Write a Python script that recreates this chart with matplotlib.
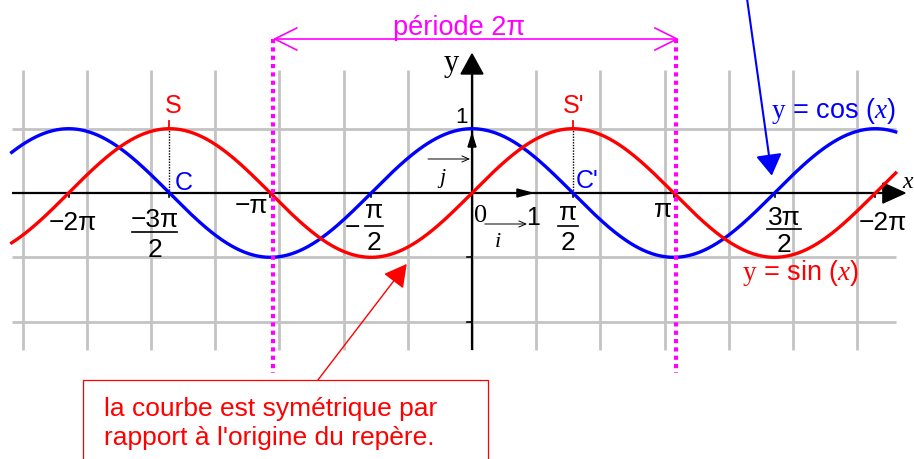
import numpy as np
import matplotlib
matplotlib.use("Agg")
import matplotlib.pyplot as plt
from matplotlib.patches import FancyArrowPatch, Rectangle, Polygon

plt.rcParams['font.family'] = ['Liberation Sans', 'DejaVu Sans']
plt.rcParams['mathtext.fontset'] = 'custom'
plt.rcParams['mathtext.rm'] = 'Liberation Serif'
plt.rcParams['mathtext.it'] = 'Liberation Serif:italic'

PI = np.pi

# ---------------- data ----------------
curve_x_range = [-7.17, 6.6]
grid_x_lines = [-7, -6, -5, -4, -3, -2, -1, 0, 1, 2, 3, 4, 5, 6]
grid_y_lines = [1, -1, -2]
grid_y_extent = [-2.44, 1.91]
tick_values = [-2 * PI, -1.5 * PI, -PI, -0.5 * PI, 0.5 * PI, PI, 1.5 * PI, 2 * PI]
tick_numerators = ["−2π", "−3π", "−π", "π", "π", "π", "3π", "−2π"]
tick_denominators = [None, "2", None, "2", "2", None, "2", None]
y_tick_values = [-1, -2]
period_bounds = [-PI, PI]
sin_max_x = [-1.5 * PI, 0.5 * PI]
sin_max_labels = ["S", "S'"]
cos_zero_labels = ["C", "C'"]

RED, BLUE, MAG, GRAY = "#ff0000", "#0000ff", "#ff00ff", "#c3c3c3"

# ---------------- figure ----------------
fig = plt.figure(figsize=(9.14, 4.6), dpi=100)
ax = fig.add_axes([0, 0, 1, 1])
SX, SY = 64.2, 64.3
ax.set_xlim(-472 / SX, 442 / SX)
ax.set_ylim(-266 / SY, 194 / SY)
ax.axis('off')

# grid
for gx in grid_x_lines:
    ax.plot([gx, gx], grid_y_extent, color=GRAY, lw=2.0, zorder=1, solid_capstyle='butt')
for gy in grid_y_lines:
    ax.plot(curve_x_range, [gy, gy], color=GRAY, lw=2.0, zorder=1, solid_capstyle='butt')

# axes
ax.plot([curve_x_range[0], 6.5], [0, 0], color='black', lw=1.6, zorder=3, solid_capstyle='butt')
ax.plot([0, 0], [grid_y_extent[0], 1.9], color='black', lw=1.6, zorder=3, solid_capstyle='butt')
ax.add_patch(Polygon([[6.745, 0], [6.40, 0.156], [6.40, -0.156]], closed=True,
                     color='black', zorder=4))
ax.add_patch(Polygon([[0, 2.162], [-0.171, 1.851], [0.171, 1.851]], closed=True,
                     color='black', zorder=4))
# unit vector heads
ax.add_patch(Polygon([[0.935, 0], [0.70, 0.062], [0.70, -0.062]], closed=True,
                     color='black', zorder=4))
ax.add_patch(Polygon([[0, 0.918], [-0.062, 0.715], [0.062, 0.715]], closed=True,
                     color='black', zorder=4))
# ticks
for tv in tick_values:
    ax.plot([tv, tv], [0, -0.06], color='black', lw=1.2, zorder=3)
for tv in y_tick_values:
    ax.plot([0, -0.08], [tv, tv], color='black', lw=1.2, zorder=3)

# curves
x = np.linspace(curve_x_range[0], curve_x_range[1], 800)
ax.plot(x, np.cos(x), color=BLUE, lw=2.4, zorder=5)
ax.plot(x, np.sin(x), color=RED, lw=2.4, zorder=6)

# tick labels
FS = 19
single_offsets = {0: (0.06, -0.56), 2: (-0.29, -0.295), 5: (-0.17, -0.358), 7: (0.12, -0.56)}
frac_params = {
    1: (-0.233, -0.513, -0.607, -0.98, 0.35),
    3: (0.045, -0.373, -0.513, -0.871, 0.14),
    4: (-0.076, -0.404, -0.513, -0.871, 0.15),
    6: (0.15, -0.482, -0.56, -0.902, 0.26),
}
for i, tv in enumerate(tick_values):
    num, den = tick_numerators[i], tick_denominators[i]
    if den is None:
        dx, by = single_offsets[i]
        ax.text(tv + dx, by, num, fontsize=FS, ha='center', va='baseline', zorder=7)
    else:
        dx, nb, ly, db, hw = frac_params[i]
        cx = tv + dx
        ax.text(cx, nb, num, fontsize=FS, ha='center', va='baseline', zorder=7)
        ax.plot([cx - hw, cx + hw], [ly, ly], color='black', lw=1.2, zorder=7)
        ax.text(cx, db, den, fontsize=FS, ha='center', va='baseline', zorder=7)
        if i == 3:
            ax.text(cx - 0.33, ly - 0.01, "−", fontsize=FS, ha='center', va='center', zorder=7)

# axis labels and unit vectors
ax.text(-0.327, 1.913, "y", fontsize=22, family='Liberation Serif', ha='center',
        va='baseline', zorder=7)
ax.text(6.71, 0.1, "x", fontsize=17, family='Liberation Serif', style='italic',
        ha='left', va='baseline', zorder=7)
ax.text(-0.17, 1.104, "1", fontsize=16, ha='center', va='baseline', zorder=7)
ax.text(0.14, -0.435, "0", fontsize=19, family='Liberation Serif', ha='center',
        va='baseline', zorder=7)
ax.text(0.95, -0.482, "1", fontsize=18, ha='center', va='baseline', zorder=7)
ax.text(-0.467, 0.171, "j", fontsize=16, family='Liberation Serif', style='italic',
        ha='center', va='baseline', zorder=7)
ax.text(0.405, -0.824, "i", fontsize=16, family='Liberation Serif', style='italic',
        ha='center', va='baseline', zorder=7)
for (x0, x1, yy) in [(-0.685, -0.03, 0.529), (0.2, 0.857, -0.482)]:
    ax.add_patch(FancyArrowPatch((x0, yy), (x1, yy), arrowstyle='->,head_length=5,head_width=2.2',
                                 mutation_scale=1, lw=0.7, color='black', zorder=7,
                                 shrinkA=0, shrinkB=0))

# S / C markers
for k, sx in enumerate(sin_max_x):
    ax.plot([sx, sx], [1, 1.12], color=RED, lw=1.3, zorder=6)
    ax.plot([sx, sx], [0, 1], color='black', lw=1.0, ls=(0, (1, 1)), zorder=4)
ax.text(sin_max_x[0] - 0.08, 1.26, sin_max_labels[0], color=RED, fontsize=18,
        ha='left', va='baseline', zorder=7)
ax.text(sin_max_x[1] - 0.16, 1.26, sin_max_labels[1], color=RED, fontsize=18,
        ha='left', va='baseline', zorder=7)
ax.text(sin_max_x[0] + 0.086, 0.062, cos_zero_labels[0], color=BLUE, fontsize=18,
        ha='left', va='baseline', zorder=7)
ax.text(sin_max_x[1] + 0.05, 0.093, cos_zero_labels[1], color=BLUE, fontsize=18,
        ha='left', va='baseline', zorder=7)

# period markers
for pb in period_bounds:
    ax.plot([pb + 0.04, pb + 0.04], [2.395, -2.8], color=MAG, lw=3.0,
            ls=(0, (1, 1)), zorder=8)
ax.add_patch(FancyArrowPatch((period_bounds[0] + 0.04, 2.395), (period_bounds[1] + 0.08, 2.395),
                             arrowstyle='<->,head_length=16,head_width=8', mutation_scale=1,
                             lw=1.2, color=MAG, zorder=8, shrinkA=0, shrinkB=0))
ax.text(-0.2, 2.47, "période 2π", color=MAG, fontsize=19.5, ha='center', va='baseline', zorder=8)

# curve labels
ax.text(4.657, 1.18, r"$\mathrm{y}$ = cos ($\mathit{x}$)", color=BLUE, fontsize=19.5,
        ha='left', va='baseline', zorder=7)
ax.text(4.2, -1.337, r"$\mathrm{y}$ = sin ($\mathit{x}$)", color=RED, fontsize=19.5,
        ha='left', va='baseline', zorder=7)

# blue pointer arrow
ax.add_patch(FancyArrowPatch((4.28, 3.05), (4.67, 0.27),
                             arrowstyle='-|>,head_length=13,head_width=8', mutation_scale=1,
                             lw=1.5, color=BLUE, zorder=9, shrinkA=0, shrinkB=0))

# annotation box + red arrow
ax.add_patch(Rectangle((-6.06, -4.6), 6.31, 1.692, facecolor='white', edgecolor=RED,
                       lw=0.9, zorder=9))
ax.add_patch(FancyArrowPatch((-2.4, -2.908), (-1.017, -1.104),
                             arrowstyle='-|>,head_length=14,head_width=7.7', mutation_scale=1,
                             lw=1.0, color=RED, zorder=9, shrinkA=0, shrinkB=0))
ax.text(-5.73, -3.46, "la courbe est symétrique par", color=RED, fontsize=19,
        ha='left', va='baseline', zorder=10)
ax.text(-5.73, -3.90, "rapport à l'origine du repère.", color=RED, fontsize=19,
        ha='left', va='baseline', zorder=10)

fig.savefig("out.png", dpi=100)
